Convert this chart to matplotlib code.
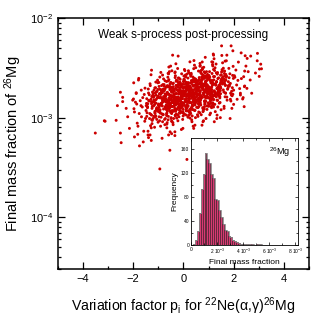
import numpy as np
import matplotlib
matplotlib.use("Agg")
import matplotlib.pyplot as plt
from matplotlib.ticker import MultipleLocator, LogLocator, NullFormatter

plt.rcParams['font.family'] = ['Liberation Sans', 'DejaVu Sans']
plt.rcParams['mathtext.fontset'] = 'custom'
plt.rcParams['mathtext.rm'] = 'Liberation Sans'
plt.rcParams['mathtext.it'] = 'Liberation Sans:italic'

# ---- scatter: sparse points read individually (p, mass fraction in 1e-3) ----
p_outer = [-0.43, -0.21, -0.51, -0.46, -0.61, -0.90, -1.78, -1.98, -2.51, -2.42,
           -2.63, -3.15, -2.68, -2.42, -2.28, -2.22, -2.02, -1.88, -1.68, 1.52,
           1.90, 2.30, 2.68, 2.94, 3.08, 3.03, 2.54, 2.44, 2.40, 2.43,
           2.27, 2.14, 1.73, 1.20, 1.13, 0.26, 0.66, 1.47, 0.80, 1.20,
           2.00, 1.87, -3.51, -3.12, -2.48, -2.51, -1.75, -1.60, -1.28, -0.85,
           -0.54, -0.94, -1.95, -1.82, -1.41, -2.15, -0.34, -0.47, 0.14]
y_outer = [4.25, 4.16, 3.30, 2.96, 2.79, 2.85, 2.48, 2.24, 1.80, 1.60,
           1.32, 0.93, 0.94, 1.45, 1.24, 1.02, 1.50, 1.75, 1.89, 5.27,
           5.27, 4.48, 4.16, 3.73, 3.45, 3.08, 3.94, 2.94, 2.58, 2.05,
           1.69, 1.53, 4.25, 4.25, 3.64, 3.64, 3.51, 1.00, 0.93, 1.28,
           1.89, 2.21, 0.70, 0.92, 0.56, 0.70, 0.52, 0.57, 0.59, 0.62,
           0.47, 0.305, 0.64, 0.68, 0.67, 0.78, 0.66, 0.69, 0.38]

# ---- scatter: dense core (estimated), first layer ----
p_core = [
    -1.97, -1.62, -1.84, -1.53, -1.76, -1.91, -1.58, -1.69, -1.88, -1.51,
    -1.72, -1.95, -1.56, -1.81, -1.64, -1.99, -1.67, -1.79, -1.54, -1.86,
    -1.47, -1.12, -1.33, -1.04, -1.26, -1.41, -1.08, -1.19, -1.38, -1.01,
    -1.29, -1.45, -1.15, -1.36, -1.06, -1.23, -1.49, -1.11, -1.31, -1.02,
    -1.43, -1.17, -1.27, -1.09, -1.39, -1.21, -1.48, -1.03, -1.34, -1.14,
    -1.24, -1.46, -1.07, -1.32, -1.18, -1.42, -1.05, -1.28, -1.37, -1.13,
    -1.22, -1.44, -1.10, -1.35, -1.16, -1.30, -1.00, -1.40, -1.25, -1.20,
    -1.04, -1.39, -1.14, -1.27, -1.46, -1.09, -1.33, -1.18, -1.43, -1.02,
    -0.97, -0.61, -0.84, -0.53, -0.76, -0.92, -0.58, -0.69, -0.88, -0.51,
    -0.73, -0.95, -0.56, -0.81, -0.64, -0.99, -0.67, -0.79, -0.54, -0.86,
    -0.62, -0.93, -0.74, -0.52, -0.83, -0.66, -0.98, -0.57, -0.71, -0.89,
    -0.78, -0.55, -0.94, -0.63, -0.85, -0.59, -0.72, -0.96, -0.50, -0.68,
    -0.91, -0.65, -0.82, -0.53, -0.77, -0.60, -0.87, -0.70, -0.99, -0.56,
    -0.75, -0.90, -0.58, -0.80, -0.66, -0.94, -0.52, -0.73, -0.85, -0.62,
    -0.69, -0.97, -0.54, -0.83, -0.60, -0.76, -0.91, -0.57, -0.88, -0.64,
    -0.51, -0.79, -0.95, -0.67, -0.72, -0.86, -0.59, -0.93, -0.55, -0.81,
    -0.47, -0.12, -0.33, -0.04, -0.26, -0.41, -0.08, -0.19, -0.38, -0.01,
    -0.23, -0.45, -0.06, -0.31, -0.14, -0.49, -0.17, -0.29, -0.03, -0.36,
    -0.11, -0.43, -0.24, -0.02, -0.34, -0.16, -0.48, -0.07, -0.21, -0.39,
    -0.28, -0.05, -0.44, -0.13, -0.35, -0.09, -0.22, -0.46, -0.00, -0.18,
    -0.41, -0.15, -0.32, -0.03, -0.27, -0.10, -0.37, -0.20, -0.49, -0.06,
    -0.25, -0.40, -0.08, -0.30, -0.16, -0.44, -0.02, -0.23, -0.35, -0.12,
    -0.19, -0.47, -0.04, -0.33, -0.10, -0.26, -0.42, -0.07, -0.38, -0.14,
    -0.01, -0.29, -0.45, -0.17, -0.22, -0.36, -0.09, -0.43, -0.05, -0.31,
    -0.24, -0.11, -0.39, -0.02, -0.28, -0.15, -0.46, -0.20, -0.34, -0.06,
    -0.41, -0.13, -0.27, -0.08, -0.37,
    0.03, 0.38, 0.17, 0.46, 0.24, 0.09, 0.42, 0.31, 0.12, 0.49,
    0.27, 0.05, 0.44, 0.19, 0.36, 0.01, 0.33, 0.21, 0.47, 0.14,
    0.39, 0.07, 0.26, 0.48, 0.16, 0.34, 0.02, 0.43, 0.29, 0.11,
    0.22, 0.45, 0.06, 0.37, 0.15, 0.41, 0.28, 0.04, 0.50, 0.32,
    0.09, 0.35, 0.18, 0.47, 0.23, 0.40, 0.13, 0.30, 0.01, 0.44,
    0.25, 0.10, 0.42, 0.20, 0.34, 0.06, 0.48, 0.27, 0.15, 0.38,
    0.31, 0.03, 0.46, 0.17, 0.40, 0.24, 0.08, 0.43, 0.12, 0.36,
    0.49, 0.21, 0.05, 0.33, 0.28, 0.14, 0.41, 0.07, 0.45, 0.19,
    0.26, 0.39, 0.11, 0.48, 0.22, 0.35, 0.04, 0.30, 0.16, 0.44,
    0.09, 0.37, 0.23, 0.02, 0.47, 0.29, 0.13, 0.42, 0.18, 0.32,
    0.53, 0.88, 0.67, 0.96, 0.74, 0.59, 0.92, 0.81, 0.62, 0.99,
    0.77, 0.55, 0.94, 0.69, 0.86, 0.51, 0.83, 0.71, 0.97, 0.64,
    0.89, 0.57, 0.76, 0.98, 0.66, 0.84, 0.52, 0.93, 0.79, 0.61,
    0.72, 0.95, 0.56, 0.87, 0.65, 0.91, 0.78, 0.54, 1.00, 0.82,
    0.59, 0.85, 0.68, 0.97, 0.73, 0.90, 0.63, 0.80, 0.51, 0.94,
    0.75, 0.60, 0.92, 0.70, 0.84, 0.56, 0.98, 0.77, 0.65, 0.88,
    0.81, 0.53, 0.96, 0.67, 0.90, 0.74, 0.58, 0.93, 0.62, 0.86,
    0.99, 0.71, 0.55, 0.83, 0.78, 0.64, 0.91, 0.57, 0.95, 0.69,
    0.76, 0.89, 0.61, 0.98, 0.72, 0.85, 0.54, 0.80, 0.66, 0.94,
    1.03, 1.38, 1.17, 1.46, 1.24, 1.09, 1.42, 1.31, 1.12, 1.49,
    1.27, 1.05, 1.44, 1.19, 1.36, 1.01, 1.33, 1.21, 1.47, 1.14,
    1.39, 1.07, 1.26, 1.48, 1.16, 1.34, 1.02, 1.43, 1.29, 1.11,
    1.22, 1.45, 1.06, 1.37, 1.15, 1.41, 1.28, 1.04, 1.50, 1.32,
    1.09, 1.35, 1.18, 1.47, 1.23, 1.40, 1.13, 1.30, 1.01, 1.44,
    1.25, 1.10, 1.42, 1.20, 1.34, 1.06, 1.48, 1.27, 1.15, 1.38,
    1.31, 1.03, 1.46, 1.17, 1.40, 1.24, 1.08, 1.43, 1.12, 1.36,
    1.53, 1.88, 1.67, 1.96, 1.74, 1.59, 1.92, 1.81, 1.62, 1.99,
    1.77, 1.55, 1.94, 1.69, 1.86, 1.51, 1.83, 1.71, 1.97, 1.64,
    1.89, 1.57, 1.76, 1.98, 1.66, 1.84, 1.52, 1.93, 1.79, 1.61,
    1.72, 1.95, 1.56, 1.87, 1.65, 1.91, 1.78, 1.54, 2.00, 1.82,
    1.59, 1.85, 1.68, 1.97, 1.73,
    2.03, 2.38, 2.17, 2.46, 2.24, 2.09, 2.42, 2.31, 2.12, 2.49,
    2.27, 2.05, 2.44, 2.19, 2.36,
    2.53, 2.87, 2.66, 2.95, 2.72, 2.58,
    3.02, 3.11,
]
y_core = [
    1.23, 1.59, 0.88, 1.98, 1.10, 1.43, 0.73, 1.32, 1.78, 0.98,
    1.48, 1.14, 1.71, 0.82, 1.28, 1.54, 1.02, 2.39, 0.92, 1.37,
    1.39, 1.01, 2.19, 1.20, 1.63, 0.73, 1.81, 1.31, 1.49, 0.90,
    2.70, 1.12, 1.35, 1.70, 0.96, 1.44, 1.18, 2.00, 0.83, 1.59,
    1.26, 1.89, 1.06, 1.52, 0.63, 1.73, 1.32, 2.38, 1.10, 1.42,
    0.94, 1.55, 1.23, 2.10, 1.03, 1.38, 1.84, 0.79, 1.47, 1.16,
    1.67, 1.28, 2.28, 0.98, 1.50, 1.08, 1.34, 1.94, 0.87, 1.61,
    1.21, 1.77, 1.13, 3.00, 1.03, 1.40, 0.67, 1.65, 1.29, 1.92,
    2.06, 1.39, 1.78, 0.72, 1.51, 1.11, 3.23, 1.22, 1.90, 1.30,
    1.73, 0.93, 2.09, 1.44, 1.16, 1.61, 1.05, 2.45, 1.37, 1.80,
    1.24, 1.58, 0.85, 1.98, 1.48, 1.11, 2.26, 1.32, 1.66, 1.01,
    1.53, 1.18, 2.56, 1.42, 1.86, 0.67, 1.64, 1.14, 2.03, 1.35,
    1.71, 0.89, 2.15, 1.27, 1.55, 1.03, 1.83, 1.45, 1.21, 2.90,
    0.96, 1.60, 1.40, 1.94, 0.79, 1.75, 1.29, 2.35, 1.09, 1.49,
    1.69, 1.02, 1.51, 2.68, 1.25, 1.92, 0.82, 1.57, 1.36, 2.10,
    1.13, 1.63, 1.33, 2.31, 0.98, 1.78, 1.46, 1.20, 2.01, 1.07,
    1.61, 1.17, 2.53, 1.39, 1.89, 0.85, 2.09, 1.51, 1.73, 1.04,
    3.12, 1.30, 1.56, 1.97, 1.11, 1.67, 1.36, 2.32, 0.96, 1.84,
    1.46, 2.19, 1.23, 1.76, 0.72, 2.00, 1.53, 2.76, 1.27, 1.64,
    1.09, 1.79, 1.43, 2.43, 1.20, 1.59, 2.13, 0.92, 1.70, 1.34,
    1.94, 1.48, 2.64, 1.13, 1.74, 1.25, 1.55, 2.25, 1.00, 1.86,
    1.40, 2.05, 1.31, 3.48, 1.19, 1.62, 0.78, 1.91, 1.50, 2.22,
    1.82, 1.10, 1.63, 2.88, 1.35, 2.07, 0.89, 1.70, 1.47, 2.27,
    1.21, 1.75, 1.43, 2.49, 1.06, 1.92, 1.57, 1.29, 2.16, 1.16,
    1.38, 2.01, 0.98, 1.66, 2.38, 1.26, 1.80, 1.53, 2.83, 1.13,
    1.85, 1.33, 2.11, 0.76, 1.60,
    2.39, 1.61, 2.06, 0.84, 1.75, 1.28, 3.75, 1.41, 2.20, 1.51,
    2.01, 1.08, 2.43, 1.67, 1.35, 1.87, 1.22, 2.84, 1.59, 2.09,
    1.44, 1.83, 0.99, 2.30, 1.72, 1.29, 2.62, 1.54, 1.93, 1.17,
    1.77, 1.37, 2.97, 1.65, 2.16, 0.78, 1.90, 1.33, 2.36, 1.57,
    1.98, 1.04, 2.50, 1.47, 1.80, 1.20, 2.12, 1.68, 1.40, 3.37,
    1.12, 1.86, 1.63, 2.25, 0.91, 2.03, 1.50, 2.73, 1.26, 1.73,
    1.25, 2.33, 1.39, 1.70, 2.07, 1.14, 2.68, 1.54, 1.89, 1.31,
    2.44, 1.58, 1.83, 0.95, 2.23, 1.45, 3.11, 1.75, 1.18, 1.96,
    1.72, 0.82, 2.27, 1.43, 2.00, 1.21, 3.05, 1.65, 1.94, 1.36,
    2.56, 1.79, 1.06, 2.16, 1.49, 1.69, 1.33, 1.91, 1.01, 2.36,
    1.69, 2.54, 1.43, 2.05, 0.84, 2.33, 1.78, 3.21, 1.48, 1.91,
    1.26, 2.08, 1.66, 2.83, 1.39, 1.85, 2.48, 1.07, 1.98, 1.56,
    2.25, 1.72, 3.07, 1.32, 2.02, 1.45, 1.80, 2.62, 1.17, 2.17,
    1.63, 2.38, 1.52, 4.04, 1.38, 1.88, 0.91, 2.22, 1.74, 2.58,
    1.87, 1.36, 2.94, 1.61, 2.19, 0.98, 2.43, 1.76, 2.01, 1.21,
    3.63, 1.51, 1.82, 2.29, 1.29, 1.94, 1.58, 2.69, 1.12, 2.14,
    2.11, 1.27, 1.89, 3.35, 1.57, 2.40, 1.03, 1.97, 1.71, 2.63,
    1.41, 2.04, 1.66, 2.89, 1.23, 2.23, 1.83, 1.50, 2.51, 1.34,
    1.60, 2.33, 1.14, 1.93, 2.77, 1.46, 2.09, 1.78, 3.29, 1.31,
    2.43, 1.85, 3.31, 1.42, 2.18, 1.57, 1.94, 2.82, 1.26, 2.34,
    1.76, 2.56, 1.64, 4.36, 1.49, 2.03, 0.98, 2.40, 1.87, 2.78,
    2.02, 1.47, 3.17, 1.74, 2.36, 1.06, 2.62, 1.90, 2.16, 1.30,
    3.91, 1.63, 1.96, 2.47, 1.39, 2.09, 1.71, 2.90, 1.20, 2.30,
    1.83, 2.74, 1.54, 2.21, 0.91, 2.51, 1.92, 3.46, 1.59, 2.06,
    1.36, 2.24, 1.79, 3.05, 1.50, 2.00, 2.67, 1.15, 2.13, 1.68,
    2.28, 1.37, 2.04, 3.61, 1.69, 2.59, 1.11, 2.12, 1.84, 2.84,
    4.22, 1.76, 2.11, 2.66, 1.50, 2.25, 1.84, 3.13, 1.30, 2.48,
    1.97, 2.95, 1.66, 2.38, 0.98, 2.70, 2.07, 3.73, 1.72, 2.22,
    1.47, 2.42, 1.93, 3.28, 1.62, 2.15, 2.88, 1.24, 2.30, 1.81,
    2.61, 2.00, 3.56, 1.53, 2.35, 1.69, 2.09, 3.04, 1.36, 2.52,
    1.90, 2.76, 1.77, 4.70, 1.61,
    2.64, 1.59, 2.37, 4.19, 1.96, 3.01, 1.29, 2.47, 2.13, 3.30,
    1.76, 2.55, 2.08, 3.62, 1.54,
    1.97, 2.81, 2.39, 4.43, 1.76, 2.90,
    2.60, 3.10,
]

# ---- scatter: dense core (estimated), second layer (central, solid region) ----
p_core2 = [
    -1.28, -0.93, -1.12, -0.84, -1.05, -1.21, -0.88, -0.99, -1.17, -0.81,
    -1.02, -1.25, -0.86, -1.09, -0.95, -1.29, -0.97, -1.14, -0.83, -1.19,
    -0.91, -1.23, -1.03, -0.80, -1.15, -0.96, -1.27, -0.87, -1.07, -1.18,
    -1.10, -0.85, -1.24, -0.94, -1.13, -0.89, -1.01, -1.26, -0.82, -1.06,
    -0.78, -0.43, -0.62, -0.34, -0.55, -0.71, -0.38, -0.49, -0.67, -0.31,
    -0.52, -0.75, -0.36, -0.59, -0.45, -0.79, -0.47, -0.64, -0.33, -0.69,
    -0.41, -0.73, -0.53, -0.30, -0.65, -0.46, -0.77, -0.37, -0.57, -0.68,
    -0.60, -0.35, -0.74, -0.44, -0.63, -0.39, -0.51, -0.76, -0.32, -0.56,
    -0.70, -0.42, -0.58, -0.34, -0.61, -0.48, -0.72, -0.40, -0.66, -0.50,
    -0.37, -0.79, -0.54, -0.45, -0.68, -0.33, -0.62, -0.47, -0.75, -0.39,
    -0.58, -0.31, -0.71, -0.43, -0.64, -0.52, -0.36, -0.77, -0.49, -0.60,
    -0.41, -0.73, -0.56, -0.35, -0.66, -0.44, -0.79, -0.50, -0.38, -0.69,
    -0.28, 0.07, -0.12, 0.16, -0.05, -0.21, 0.12, 0.01, -0.17, 0.19,
    -0.02, -0.25, 0.14, -0.09, 0.05, -0.29, 0.03, -0.14, 0.17, -0.19,
    0.09, -0.23, -0.03, 0.20, -0.15, 0.04, -0.27, 0.13, -0.07, -0.18,
    -0.10, 0.15, -0.24, 0.06, -0.13, 0.11, -0.01, -0.26, 0.18, -0.06,
    -0.20, 0.08, -0.08, 0.16, -0.11, 0.02, -0.22, 0.10, -0.16, 0.00,
    0.13, -0.29, -0.04, 0.05, -0.18, 0.17, -0.12, 0.03, -0.25, 0.11,
    -0.08, 0.19, -0.21, 0.07, -0.14, -0.02, 0.14, -0.27, 0.01, -0.10,
    0.09, -0.23, -0.06, 0.15, -0.16, 0.06, -0.29, 0.00, 0.12, -0.19,
    -0.04, 0.18, -0.13, 0.04, -0.22, 0.10, -0.09, 0.02, -0.26, 0.16,
    0.22, 0.57, 0.38, 0.66, 0.45, 0.29, 0.62, 0.51, 0.33, 0.69,
    0.48, 0.25, 0.64, 0.41, 0.55, 0.21, 0.53, 0.36, 0.67, 0.31,
    0.59, 0.27, 0.47, 0.70, 0.35, 0.54, 0.23, 0.63, 0.43, 0.32,
    0.40, 0.65, 0.26, 0.56, 0.37, 0.61, 0.49, 0.24, 0.68, 0.44,
    0.30, 0.58, 0.42, 0.66, 0.39, 0.52, 0.28, 0.60, 0.34, 0.50,
    0.63, 0.21, 0.46, 0.55, 0.32, 0.67, 0.38, 0.53, 0.25, 0.61,
    0.42, 0.69, 0.29, 0.57, 0.36, 0.48, 0.64, 0.23, 0.51, 0.40,
    0.59, 0.27, 0.44, 0.65, 0.34, 0.56, 0.21, 0.50, 0.62, 0.31,
    0.46, 0.68, 0.37, 0.54, 0.28, 0.60, 0.41, 0.52, 0.24, 0.66,
    0.72, 1.07, 0.88, 1.16, 0.95, 0.79, 1.12, 1.01, 0.83, 1.19,
    0.98, 0.75, 1.14, 0.91, 1.05, 0.71, 1.03, 0.86, 1.17, 0.81,
    1.09, 0.77, 0.97, 1.20, 0.85, 1.04, 0.73, 1.13, 0.93, 0.82,
    0.90, 1.15, 0.76, 1.06, 0.87, 1.11, 0.99, 0.74, 1.18, 0.94,
    0.80, 1.08, 0.92, 1.16, 0.89, 1.02, 0.78, 1.10, 0.84, 1.00,
    1.13, 0.71, 0.96, 1.05, 0.82, 1.17, 0.88, 1.03, 0.75, 1.11,
    0.92, 1.19, 0.79, 1.07, 0.86, 0.98, 1.14, 0.73, 1.01, 0.90,
    1.22, 1.57, 1.38, 1.66, 1.45, 1.29, 1.62, 1.51, 1.33, 1.69,
    1.48, 1.25, 1.64, 1.41, 1.55, 1.21, 1.53, 1.36, 1.67, 1.31,
    1.59, 1.27, 1.47, 1.70, 1.35, 1.54, 1.23, 1.63, 1.43, 1.32,
    1.40, 1.65, 1.26, 1.56, 1.37, 1.61, 1.49, 1.24, 1.68, 1.44,
]
y_core2 = [
    1.45, 1.13, 1.77, 1.31, 1.57, 0.98, 1.89, 1.37, 1.50, 1.08,
    2.24, 1.24, 1.41, 1.68, 1.19, 1.53, 1.28, 1.99, 0.91, 1.61,
    1.34, 1.81, 1.16, 1.48, 0.80, 1.73, 1.38, 2.10, 1.21, 1.44,
    1.04, 1.55, 1.30, 1.93, 1.10, 1.39, 1.64, 0.95, 1.49, 1.26,
    1.88, 1.43, 2.55, 1.24, 1.68, 1.30, 1.53, 2.00, 1.09, 1.73,
    1.37, 1.92, 1.33, 2.76, 1.18, 1.58, 0.92, 1.80, 1.46, 2.03,
    1.64, 1.27, 2.19, 1.42, 1.76, 1.13, 1.85, 1.49, 1.58, 1.21,
    2.34, 1.34, 1.53, 1.89, 1.30, 1.68, 1.39, 2.07, 1.04, 1.71,
    1.45, 1.97, 1.24, 1.62, 0.95, 1.83, 1.48, 2.22, 1.31, 1.52,
    1.56, 1.22, 1.91, 1.42, 1.70, 1.06, 2.04, 1.48, 1.62, 1.16,
    2.41, 1.34, 1.52, 1.82, 1.28, 1.65, 1.39, 2.15, 0.98, 1.74,
    1.45, 1.95, 1.25, 1.59, 0.86, 1.86, 1.49, 2.26, 1.31, 1.55,
    1.20, 1.79, 1.50, 2.24, 1.28, 1.62, 1.90, 1.10, 1.73, 1.46,
    2.02, 1.54, 2.74, 1.33, 1.81, 1.39, 1.65, 2.14, 1.17, 1.86,
    1.47, 2.06, 1.42, 2.96, 1.26, 1.70, 0.99, 1.94, 1.57, 2.18,
    1.76, 1.36, 2.35, 1.52, 1.89, 1.22, 1.98, 1.60, 1.70, 1.30,
    2.51, 1.44, 1.65, 2.03, 1.39, 1.81, 1.49, 2.22, 1.12, 1.84,
    1.55, 2.11, 1.33, 1.74, 1.02, 1.97, 1.58, 2.38, 1.41, 1.63,
    1.68, 1.31, 2.05, 1.52, 1.82, 1.14, 2.19, 1.58, 1.74, 1.25,
    2.59, 1.44, 1.63, 1.95, 1.38, 1.78, 1.49, 2.30, 1.06, 1.87,
    1.55, 2.10, 1.34, 1.71, 0.93, 2.00, 1.60, 2.43, 1.41, 1.66,
    1.75, 1.51, 2.56, 1.70, 2.12, 1.10, 1.87, 1.43, 2.27, 1.67,
    1.98, 1.20, 2.39, 1.60, 1.94, 1.50, 2.18, 1.77, 1.55, 2.70,
    1.39, 1.82, 1.72, 2.13, 1.31, 2.03, 1.63, 2.53, 1.46, 1.89,
    2.34, 1.69, 2.08, 1.07, 1.82, 1.36, 3.18, 1.53, 2.22, 1.58,
    2.00, 1.26, 2.30, 1.77, 1.50, 1.94, 1.43, 2.94, 1.65, 2.17,
    1.57, 1.86, 1.19, 2.05, 1.74, 1.38, 2.41, 1.62, 1.93, 1.29,
    1.79, 1.51, 2.61, 1.72, 2.15, 1.00, 1.84, 1.44, 2.25, 1.67,
    2.01, 1.14, 2.48, 1.60, 1.91, 1.48, 2.10, 1.75, 1.55, 2.79,
    1.34, 1.87, 1.70, 2.36, 1.22, 1.96, 1.63, 2.20, 1.41, 1.81,
    3.00, 1.67, 1.89, 2.26, 1.59, 2.05, 1.72, 2.66, 1.22, 2.16,
    1.79, 2.42, 1.55, 1.98, 1.07, 2.31, 1.85, 2.81, 1.63, 1.92,
    1.39, 2.07, 1.74, 2.59, 1.48, 1.87, 2.20, 1.28, 2.00, 1.68,
    2.33, 1.78, 3.16, 1.54, 2.09, 1.61, 1.91, 2.48, 1.35, 2.15,
    1.70, 2.39, 1.65, 3.42, 1.46, 1.96, 1.15, 2.24, 1.81, 2.52,
    2.04, 1.57, 2.72, 1.76, 2.18, 1.41, 2.29, 1.85, 1.96, 1.50,
    2.90, 1.67, 1.91, 2.35, 1.61, 2.09, 1.72, 2.57, 1.30, 2.13,
    1.84, 2.58, 1.78, 3.70, 1.58, 2.12, 1.24, 2.42, 1.96, 2.72,
    2.20, 1.70, 2.94, 1.90, 2.36, 1.52, 2.48, 2.00, 2.12, 1.62,
    3.14, 1.80, 2.06, 2.54, 1.74, 2.26, 1.86, 2.78, 1.40, 2.30,
    1.94, 2.64, 1.66, 2.18, 1.28, 2.46, 1.98, 2.98, 1.76, 2.04,
]

# ---- inset histogram (counts), bins in 1e-3 units ----
hist_first_edge = 0.125
hist_bin_width = 0.15
hist_counts = [2, 8, 24, 54, 93, 118, 153, 143, 137, 119,
               111, 76, 75, 59, 47, 35, 25, 24, 15, 13,
               8, 7, 5, 3, 2, 1, 1, 1, 1, 0,
               1, 0, 0, 1, 2]

inset_xticks_e3 = [0, 2, 4, 6, 8]
inset_xticklabels = ['0', r'2 10$^{-3}$', r'4 10$^{-3}$', r'6 10$^{-3}$', r'8 10$^{-3}$']
inset_yticks = [0, 40, 80, 120, 160]

# ---------------------------------------------------------------------------
fig = plt.figure(figsize=(3.29, 3.25), dpi=100)
ax = fig.add_axes([0.176, 0.172, 0.763, 0.772])

p_all = np.array(p_outer + p_core + p_core2)
y_all = np.array(y_outer + y_core + y_core2) * 1e-3
ax.scatter(p_all, y_all, s=4.5, color='#cc0000', edgecolors='none', zorder=2)

ax.set_xlim(-5, 5)
ax.set_yscale('log')
ax.set_ylim(3.0e-5, 1e-2)
ax.xaxis.set_major_locator(MultipleLocator(2))
ax.xaxis.set_minor_locator(MultipleLocator(1))
ax.yaxis.set_major_locator(LogLocator(base=10, numticks=10))
ax.yaxis.set_minor_locator(LogLocator(base=10, subs=np.arange(2, 10), numticks=20))
ax.yaxis.set_minor_formatter(NullFormatter())
ax.tick_params(which='both', direction='in', top=True, right=True, labelsize=8, width=0.9)
ax.tick_params(which='major', length=5)
ax.tick_params(which='minor', length=2.5)
for s in ax.spines.values():
    s.set_linewidth(1.1)

ax.set_xlabel('Variation factor p$_\\mathregular{i}$ for $^{22}$Ne(α,γ)$^{26}$Mg',
              fontsize=10.2, labelpad=8)
ax.set_ylabel(r'Final mass fraction of $^{26}$Mg', fontsize=10.5, labelpad=4)
ax.text(0.5, 0.955, 'Weak s-process post-processing', transform=ax.transAxes,
        ha='center', va='top', fontsize=8.5)

# ---- inset ----
ins = fig.add_axes([0.581, 0.246, 0.325, 0.329])
ins.set_facecolor('white')
ins.set_zorder(5)
counts = np.array(hist_counts)
edges_e3 = hist_first_edge + hist_bin_width * np.arange(len(counts) + 1)
lefts = edges_e3[:-1] * 1e-3
ins.bar(lefts, counts, width=hist_bin_width * 1e-3, align='edge',
        color='#d63a72', edgecolor='#4a1f2e', linewidth=0.5)
ins.stairs(counts, edges_e3 * 1e-3 + 0.04e-3, color='#8a8a8a', linewidth=0.6, zorder=1)
ins.set_xlim(0, 8.2e-3)
ins.set_ylim(0, 178)
ins.set_xticks([v * 1e-3 for v in inset_xticks_e3])
ins.set_xticklabels(inset_xticklabels)
ins.set_yticks(inset_yticks)
ins.xaxis.set_minor_locator(MultipleLocator(1e-3))
ins.yaxis.set_minor_locator(MultipleLocator(20))
ins.tick_params(which='both', direction='in', top=True, right=True, labelsize=3.5,
                width=0.5, pad=1.5)
ins.tick_params(which='major', length=2.5)
ins.tick_params(which='minor', length=1.5)
for s in ins.spines.values():
    s.set_linewidth(0.6)
ins.set_xlabel('Final mass fraction', fontsize=6, labelpad=1.5)
ins.set_ylabel('Frequency', fontsize=6, labelpad=2)
ins.text(0.93, 0.93, r'$^{26}$Mg', transform=ins.transAxes, ha='right', va='top', fontsize=6.5)

fig.savefig('out.png', dpi=100)
